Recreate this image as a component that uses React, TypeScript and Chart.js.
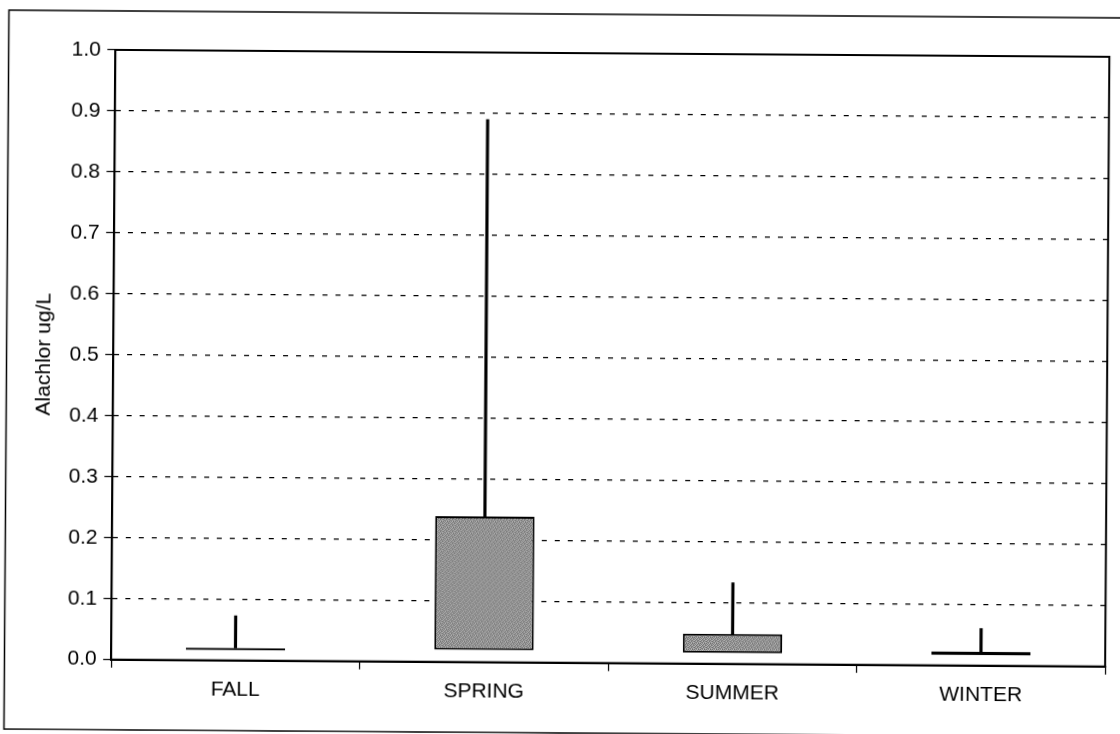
import React, { useEffect, useRef } from "react";
import { Chart, registerables } from "chart.js";

Chart.register(...registerables);

// ---- data ----
const categories = ["FALL", "SPRING", "SUMMER", "WINTER"];
const boxLow = [0.0168, 0.02, 0.018, 0.017];
const boxHigh = [0.0206, 0.239, 0.049, 0.023];
const maxValues = [0.073, 0.89, 0.133, 0.061];
const yTickValues = [0, 0.1, 0.2, 0.3, 0.4, 0.5, 0.6, 0.7, 0.8, 0.9, 1.0];
const yAxisTitle = "Alachlor ug/L";

const FONT = "'Liberation Sans', Arial, Helvetica, sans-serif";

function makePattern(): CanvasPattern | string {
  const c = document.createElement("canvas");
  c.width = 6;
  c.height = 6;
  const g = c.getContext("2d");
  if (!g) return "#9a9a9a";
  const shades = [
    [115, 170, 135, 185, 105, 155],
    [165, 125, 180, 120, 160, 130],
    [135, 185, 110, 155, 175, 115],
    [180, 120, 160, 130, 125, 170],
    [110, 155, 175, 115, 165, 135],
    [160, 130, 125, 170, 135, 180],
  ];
  for (let y = 0; y < 6; y++) {
    for (let x = 0; x < 6; x++) {
      const s = shades[y][x];
      g.fillStyle = `rgb(${s},${s},${s})`;
      g.fillRect(x, y, 1, 1);
    }
  }
  const p = g.createPattern(c, "repeat");
  return p || "#9a9a9a";
}

const framePlugin = {
  id: "framePlugin",
  afterDraw(chart: any) {
    const { ctx, chartArea } = chart;
    ctx.save();
    ctx.strokeStyle = "#000";
    ctx.lineWidth = 2;
    ctx.setLineDash([]);
    ctx.strokeRect(
      chartArea.left,
      chartArea.top,
      chartArea.right - chartArea.left,
      chartArea.bottom - chartArea.top
    );
    ctx.lineWidth = 1.5;
    ctx.strokeRect(6.5, 14, 1126 - 6.5, 733 - 14);
    ctx.restore();
  },
};

export default function App() {
  const ref = useRef<HTMLCanvasElement | null>(null);

  useEffect(() => {
    if (!ref.current) return;
    const pattern = makePattern();
    const chart = new Chart(ref.current, {
      type: "bar",
      data: {
        labels: categories,
        datasets: [
          {
            label: "Max",
            data: categories.map((_, i) => [boxHigh[i], maxValues[i]]) as any,
            backgroundColor: "#000",
            borderWidth: 0,
            barThickness: 2.5,
            grouped: false,
            order: 2,
          } as any,
          {
            label: "Box",
            data: categories.map((_, i) => [boxLow[i], boxHigh[i]]) as any,
            backgroundColor: pattern as any,
            borderColor: "#000",
            borderWidth: 2,
            borderSkipped: false,
            barPercentage: 0.4,
            categoryPercentage: 1,
            grouped: false,
            order: 1,
          } as any,
        ],
      },
      options: {
        responsive: false,
        animation: false,
        layout: { padding: { left: 0, top: 53, right: 12.8, bottom: 11.3 } },
        plugins: {
          legend: { display: false },
          tooltip: { enabled: false },
        },
        scales: {
          x: {
            type: "category",
            offset: true,
            grid: {
              display: true,
              offset: true,
              drawOnChartArea: false,
              drawTicks: true,
              tickLength: 8,
              color: "#000",
              lineWidth: 1.2,
            },
            border: { display: true, color: "#000", width: 2 },
            ticks: {
              color: "#000",
              font: { family: FONT, size: 21 },
              padding: 9,
              maxRotation: 0,
              autoSkip: false,
            },
            afterFit: (s: any) => {
              s.height = 60;
            },
          } as any,
          y: {
            type: "linear",
            min: 0,
            max: 1,
            afterBuildTicks: (s: any) => {
              s.ticks = yTickValues.map((v) => ({ value: v }));
            },
            ticks: {
              color: "#000",
              font: { family: FONT, size: 21 },
              padding: 6.5,
              callback: (v: any) => Number(v).toFixed(1),
            },
            grid: {
              color: "#000",
              lineWidth: 1.2,
              drawTicks: true,
              tickLength: 8,
              tickBorderDash: [],
            },
            border: { display: true, color: "#000", width: 2, dash: [5, 8] },
            title: {
              display: true,
              text: yAxisTitle,
              color: "#000",
              font: { family: FONT, size: 21 },
              padding: { top: 31.5, bottom: 0 },
            },
            afterFit: (s: any) => {
              s.width = 113.2;
            },
          } as any,
        },
      },
      plugins: [framePlugin],
    });
    return () => chart.destroy();
  }, []);

  return (
    <div
      style={{
        position: "fixed",
        left: 0,
        top: 0,
        width: 1120,
        height: 734,
        background: "#fff",
        overflow: "hidden",
      }}
    >
      <canvas
        ref={ref}
        width={1120}
        height={734}
        style={{ display: "block", transform: "rotate(0.4deg)", transformOrigin: "560px 367px" }}
      />
    </div>
  );
}
